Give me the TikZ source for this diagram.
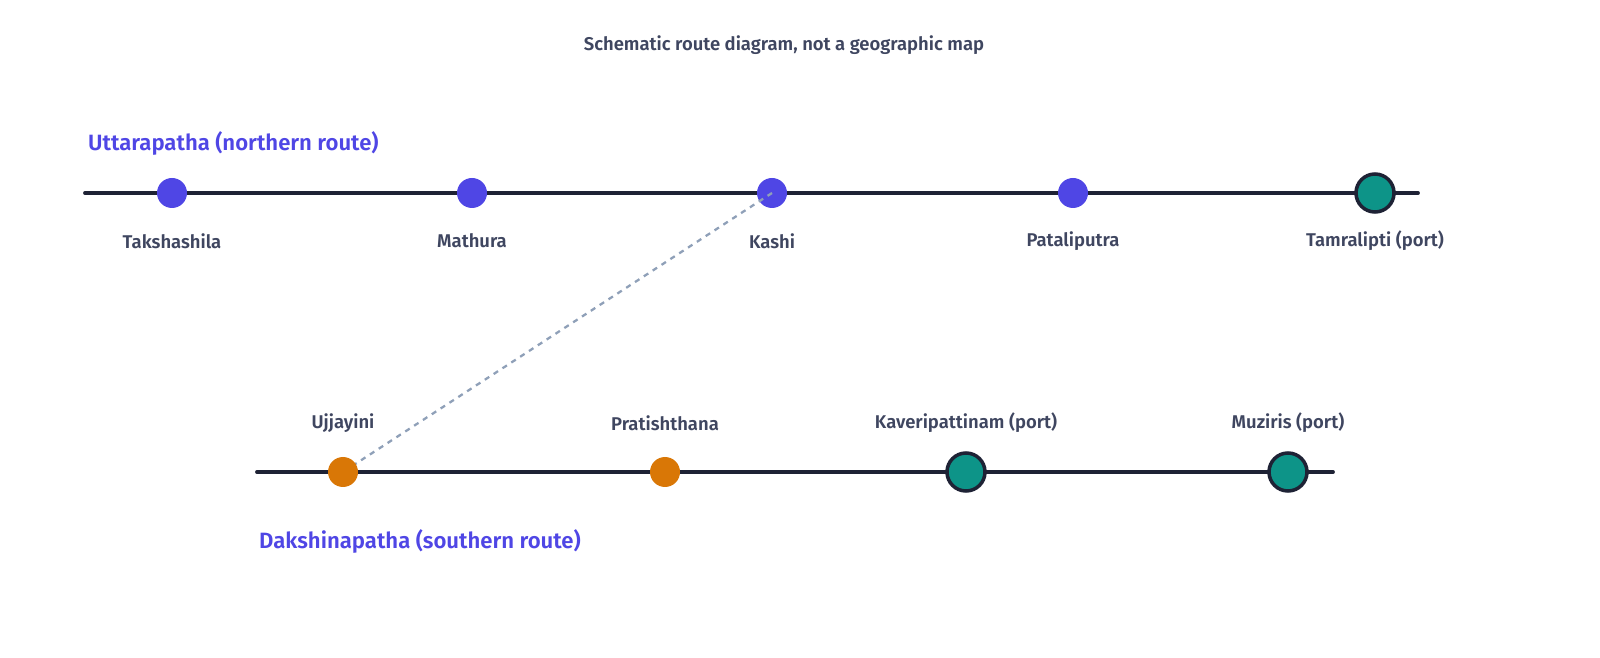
\documentclass[tikz,border=0pt]{standalone}
\usepackage{fontspec}
\setmainfont{Fira Sans}[BoldFont={Fira Sans SemiBold}]
\definecolor{ink}{HTML}{1E2235}
\definecolor{txt}{HTML}{3F4660}
\definecolor{route}{HTML}{4F46E5}
\definecolor{south}{HTML}{D97706}
\definecolor{port}{HTML}{0D9488}
\definecolor{link}{HTML}{8FA0B8}
\begin{document}
\begin{tikzpicture}[x=0.02cm,y=-0.02cm,
    town/.style={circle,fill=route,inner sep=0pt,minimum size=30*0.02cm},
    stop/.style={circle,fill=south,inner sep=0pt,minimum size=30*0.02cm},
    harbour/.style={circle,fill=port,draw=ink,line width=2pt,inner sep=0pt,minimum size=38*0.02cm},
    place/.style={font=\fontsize{10.5}{12}\selectfont\bfseries,text=txt},
    title/.style={font=\fontsize{12.6}{14}\selectfont\bfseries,text=route,anchor=west},
    track/.style={ink,line width=2.2pt,line cap=round}]
  \useasboundingbox (0,0) rectangle (1600,658);
  \node[font=\fontsize{10.5}{12}\selectfont\bfseries,text=txt] (note) at (784,45) {Schematic route diagram, not a geographic map};
  % northern route
  \node[title] (nt) at (82,143) {Uttarapatha (northern route)};
  \coordinate (n0) at (85,193);
  \coordinate (n9) at (1418,193);
  \draw[track] (n0) -- (n9);
  \node[town] (n1) at (172,193) {};
  \node[town] (n2) at (472,193) {};
  \node[town] (n3) at (772,193) {};
  \node[town] (n4) at (1073,193) {};
  \node[harbour] (n5) at (1375,193) {};
  \node[place] (l1) at (172,241) {Takshashila};
  \node[place] (l2) at (472,241) {Mathura};
  \node[place] (l3) at (772,241) {Kashi};
  \node[place] (l4) at (1073,241) {Pataliputra};
  \node[place] (l5) at (1375,241) {Tamralipti (port)};
  % southern route
  \node[title] (st) at (253,541) {Dakshinapatha (southern route)};
  \coordinate (s0) at (257,472);
  \coordinate (s9) at (1333,472);
  \draw[track] (s0) -- (s9);
  \draw[link,line width=1.3pt,dashed] (n3.center) -- (343,472);
  \node[stop] (s1) at (343,472) {};
  \node[stop] (s2) at (665,472) {};
  \node[harbour] (s3) at (966,472) {};
  \node[harbour] (s4) at (1288,472) {};
  \node[place] (m1) at (343,423) {Ujjayini};
  \node[place] (m2) at (665,423) {Pratishthana};
  \node[place] (m3) at (966,423) {Kaveripattinam (port)};
  \node[place] (m4) at (1288,423) {Muziris (port)};
\end{tikzpicture}
\end{document}
